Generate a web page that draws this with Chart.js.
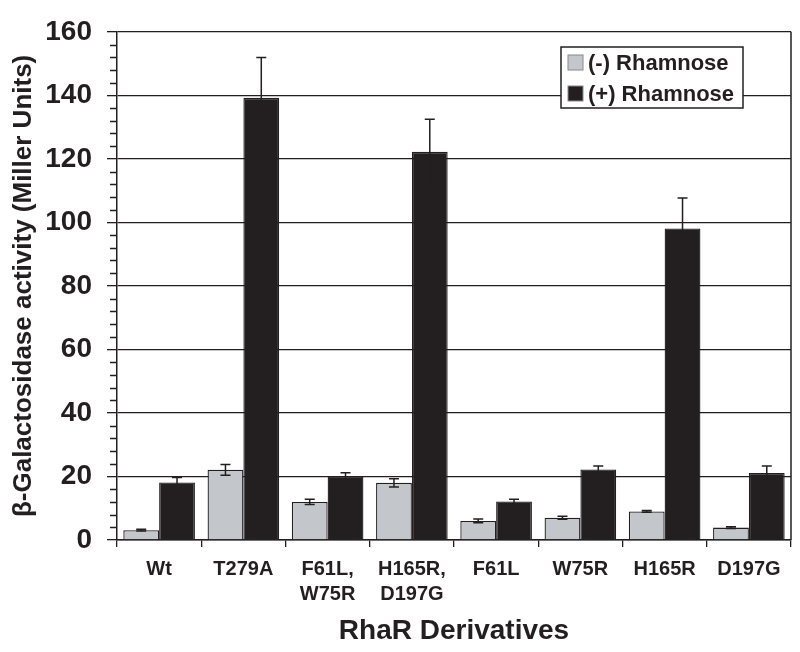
<!DOCTYPE html>
<html>
<head>
<meta charset="utf-8">
<script src="https://cdn.jsdelivr.net/npm/chart.js@4.4.1/dist/chart.umd.min.js"></script>
<style>
html,body{margin:0;padding:0;background:#fff;}
canvas{display:block;}
</style>
</head>
<body>
<canvas id="c" width="800" height="652"></canvas>
<script>
const categories = ["Wt", "T279A", ["F61L,", "W75R"], ["H165R,", "D197G"], "F61L", "W75R", "H165R", "D197G"];
const seriesNames = ["(-) Rhamnose", "(+) Rhamnose"];
const minusRha = [3.1, 22.1, 12.0, 18.0, 6.0, 7.0, 9.0, 3.9];
const minusErr = [0.3, 1.7, 0.8, 1.3, 0.6, 0.5, 0.3, 0.3];
const plusRha = [18.1, 139.2, 20.0, 122.2, 12.1, 22.2, 98.1, 21.1];
const plusErr = [1.6, 12.7, 1.2, 10.3, 0.7, 1.1, 9.6, 2.2];
const yTicksMajor = [0, 20, 40, 60, 80, 100, 120, 140, 160];

const INK = '#231f20';
const GREY = '#c3c7cb';
const FONT = "'Liberation Sans', Arial, Helvetica, sans-serif";

const errorBars = {
  id: 'errorBars',
  afterDatasetsDraw(chart) {
    const ctx = chart.ctx;
    const y = chart.scales.y;
    ctx.save();
    ctx.strokeStyle = INK;
    ctx.lineWidth = 1.5;
    chart.data.datasets.forEach((ds, di) => {
      const meta = chart.getDatasetMeta(di);
      meta.data.forEach((bar, i) => {
        const v = ds.data[i], e = ds.err[i];
        const yt = y.getPixelForValue(v + e);
        const yb = y.getPixelForValue(v - e);
        const x = bar.x;
        ctx.beginPath();
        ctx.moveTo(x, yt); ctx.lineTo(x, yb);
        ctx.moveTo(x - 5, yt); ctx.lineTo(x + 5, yt);
        ctx.moveTo(x - 5, yb); ctx.lineTo(x + 5, yb);
        ctx.stroke();
      });
    });
    ctx.restore();
  }
};

const frameAndTicks = {
  id: 'frameAndTicks',
  afterDraw(chart) {
    const ctx = chart.ctx;
    const a = chart.chartArea;
    const y = chart.scales.y;
    ctx.save();
    ctx.strokeStyle = INK;
    ctx.lineWidth = 1.5;
    ctx.beginPath();
    ctx.moveTo(a.right, a.top); ctx.lineTo(a.right, a.bottom);
    ctx.stroke();
    ctx.lineWidth = 1.3;
    ctx.beginPath();
    for (let v = 0; v <= 160; v += 4) {
      if (v % 20 === 0) continue;
      const py = Math.round(y.getPixelForValue(v)) + 0.5;
      ctx.moveTo(a.left - 7, py); ctx.lineTo(a.left, py);
    }
    ctx.stroke();
    const bx = 561, by = 47, bw = 182, bh = 61;
    ctx.fillStyle = '#fff';
    ctx.fillRect(bx, by, bw, bh);
    ctx.lineWidth = 1.5;
    ctx.strokeRect(bx, by, bw, bh);
    const colors = [GREY, INK];
    ctx.font = "bold 22px " + FONT;
    ctx.textBaseline = 'middle';
    ctx.textAlign = 'left';
    chart.data.datasets.forEach((ds, i) => {
      const cy = by + 16 + i * 31;
      ctx.fillStyle = colors[i];
      ctx.fillRect(bx + 7, cy - 8, 15, 15);
      ctx.lineWidth = 1;
      ctx.strokeStyle = '#888';
      ctx.strokeRect(bx + 7, cy - 8, 15, 15);
      ctx.fillStyle = INK;
      ctx.fillText(ds.label, bx + 27, cy + 1);
    });
    ctx.restore();
  }
};

new Chart(document.getElementById('c'), {
  type: 'bar',
  data: {
    labels: categories,
    datasets: [
      { label: seriesNames[0], data: minusRha, err: minusErr, backgroundColor: GREY, borderColor: INK, borderWidth: 1.3 },
      { label: seriesNames[1], data: plusRha, err: plusErr, backgroundColor: INK, borderColor: INK, borderWidth: 1.3 }
    ]
  },
  options: {
    responsive: false,
    animation: false,
    devicePixelRatio: 1,
    layout: { padding: { top: 22, right: 9, left: 0, bottom: 0 } },
    datasets: { bar: { categoryPercentage: 0.85, barPercentage: 1.0 } },
    plugins: { legend: { display: false }, tooltip: { enabled: false } },
    scales: {
      x: {
        afterFit(s) { s.height = 112; },
        grid: { offset: true, drawOnChartArea: false, drawTicks: true, tickLength: 7, color: INK, lineWidth: 1.3 },
        border: { color: INK, width: 1.5 },
        ticks: { color: INK, font: { family: FONT, size: 20, weight: 'bold', lineHeight: 1.25 }, padding: 10, maxRotation: 0, autoSkip: false },
        title: { display: true, text: 'RhaR Derivatives', color: INK, font: { family: FONT, size: 28, weight: 'bold' }, padding: { top: 0, bottom: 4 } }
      },
      y: {
        min: 0, max: 160,
        afterFit(s) { s.width = 117; },
        afterBuildTicks(s) { s.ticks = yTicksMajor.map(v => ({ value: v })); },
        grid: { color: INK, lineWidth: 1.3, tickLength: 10, drawTicks: true },
        border: { color: INK, width: 1.5 },
        ticks: { color: INK, font: { family: FONT, size: 28, weight: 'bold' }, padding: 15 },
        title: { display: true, text: 'β-Galactosidase activity (Miller Units)', color: INK, font: { family: FONT, size: 26, weight: 'bold' }, padding: { top: 8, bottom: 0 } }
      }
    }
  },
  plugins: [errorBars, frameAndTicks]
});
</script>
</body>
</html>
